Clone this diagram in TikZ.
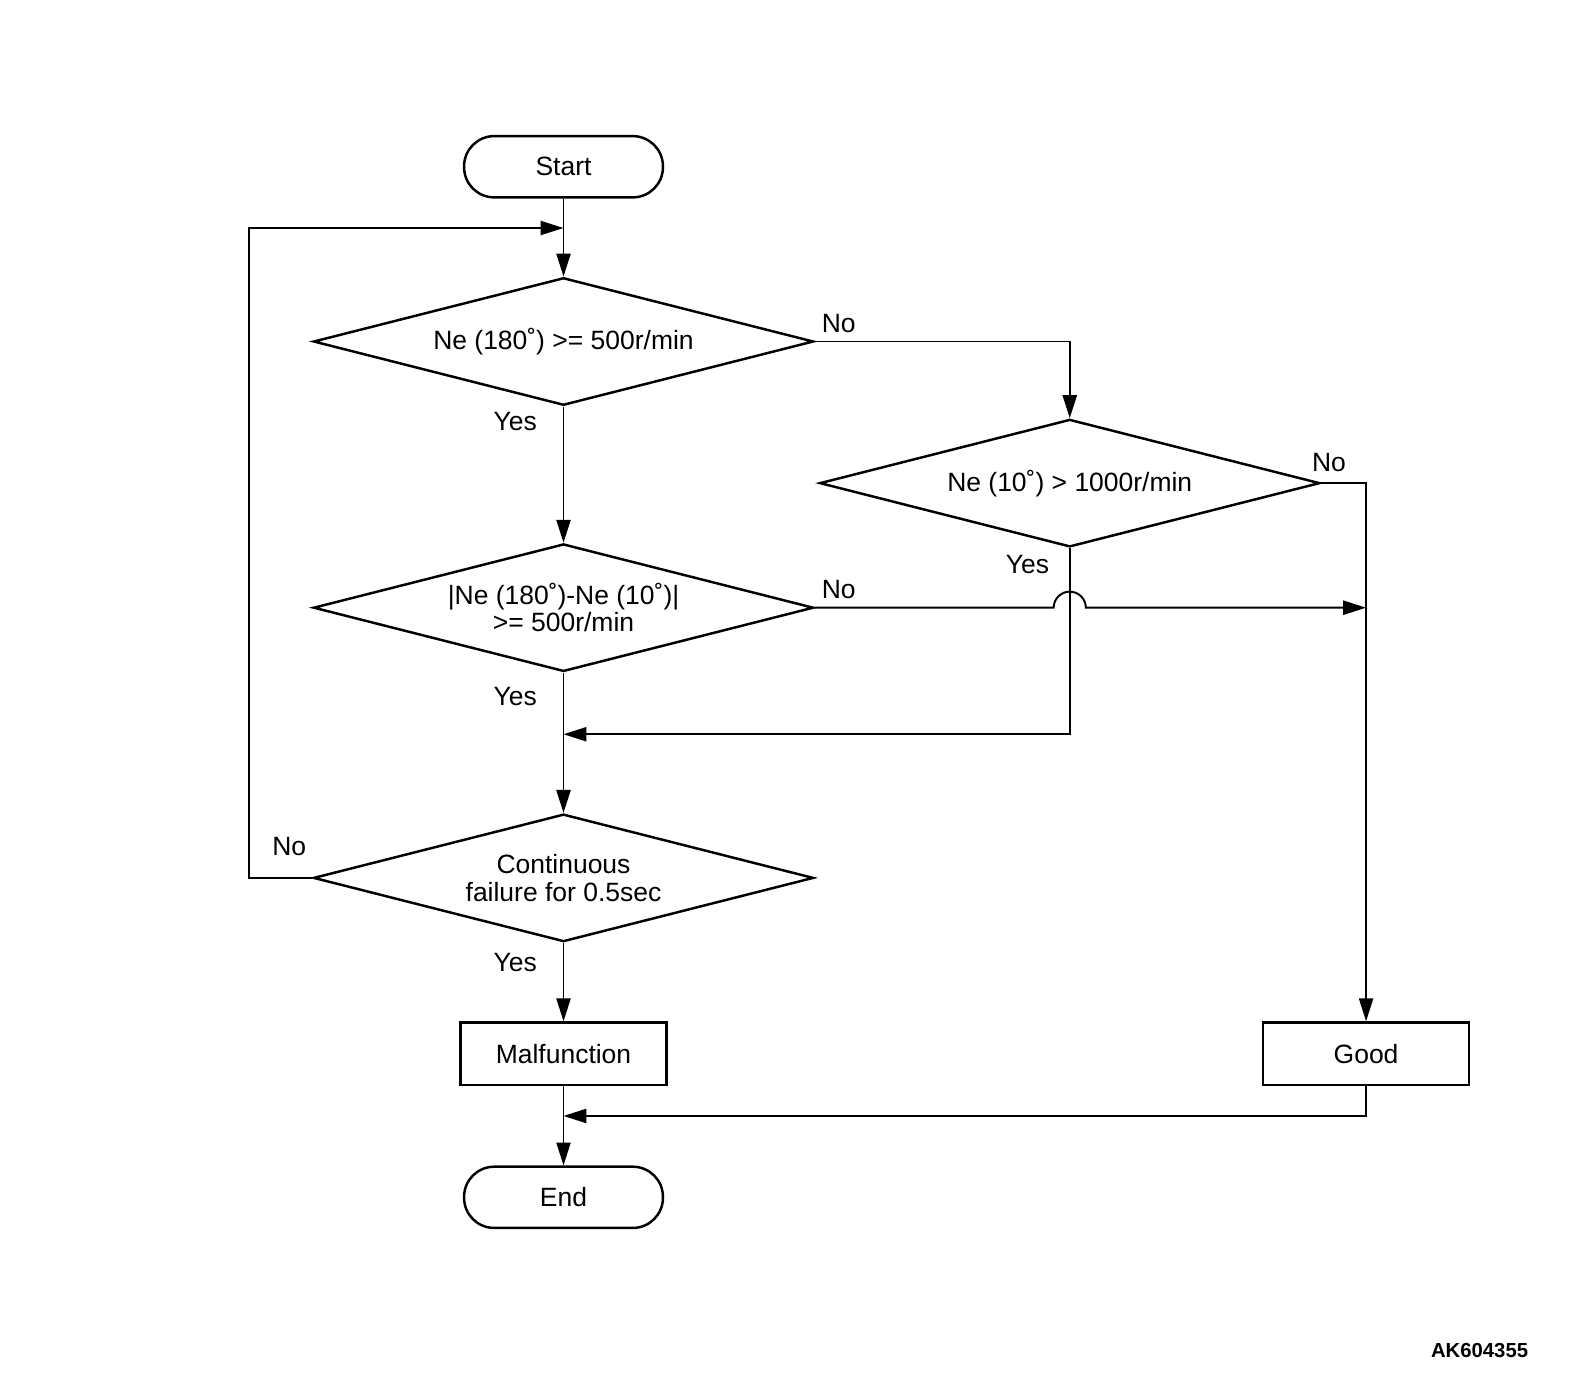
\documentclass[tikz,border=0pt]{standalone}
\usepackage{fontspec}
\setmainfont{Liberation Sans}
\usetikzlibrary{shapes.geometric,arrows.meta}
\tikzset{
	terminal/.style = {draw, line width=1.4pt, rectangle, rounded corners=0.6cm,
		minimum width=3.96cm, minimum height=1.22cm},
	process/.style = {draw, line width=1.4pt, rectangle,
		minimum width=4.1cm, minimum height=1.24cm},
	decision/.style = {draw, line width=1.4pt, diamond, aspect=4, inner sep=0pt,
		minimum width=9.96cm, minimum height=2.54cm, align=center},
	flow/.style = {-{Triangle[length=13pt,width=8pt]}},
	answer/.style = {inner sep=0pt},
}

\begin{document}
\begin{tikzpicture}[x=0.02cm, y=-0.02cm, line width=1.1pt, font=\fontsize{15}{15.5}\selectfont]
	
	\useasboundingbox (0,0) rectangle (1568,1371);
	
	% steps
	\node[terminal] (start) at (561,166) {Start};
	\node[decision] (speed) at (561,340) {Ne (180˚) >= 500r/min};
	\node[decision] (high) at (1065,481) {Ne (10˚) > 1000r/min};
	\node[decision] (diff) at (561,605) {|Ne (180˚)-Ne (10˚)|\\>= 500r/min};
	\node[decision] (cont) at (561,874) {Continuous\\failure for 0.5sec};
	\node[process] (malf) at (561,1049) {Malfunction};
	\node[process] (good) at (1360,1049) {Good};
	\node[terminal] (end) at (561,1192) {End};
	
	% answers
	\node[answer] (speedNo) at (835,322) {No};
	\node[answer] (speedYes) at (513,420) {Yes};
	\node[answer] (highNo) at (1323,460) {No};
	\node[answer] (highYes) at (1023,562) {Yes};
	\node[answer] (diffNo) at (835,587) {No};
	\node[answer] (diffYes) at (513,693) {Yes};
	\node[answer] (contNo) at (288,843) {No};
	\node[answer] (contYes) at (513,958) {Yes};
	
	% joints
	\coordinate (loop) at (561,227);
	\coordinate (back) at (248,227);
	\coordinate (join) at (561,731);
	\coordinate (hop) at (1065,605);
	\coordinate (merge) at (561,1111);
	
	% flow
	\draw[flow] (start) -- (speed);
	\draw[flow] (speed.east) -| (high.north);
	\draw[flow] (speed.south) -- (diff.north);
	\draw[flow] (high.east) -| (good.north);
	\draw[flow] (high.south) |- (join);
	\draw[flow] (diff.east) -- ([xshift=-0.32cm]hop)
		arc[start angle=180, end angle=0, radius=0.32cm] -- (diff.east -| good.north);
	\draw[flow] (diff.south) -- (cont.north);
	\draw[flow] (cont.west) -| (back) -- (loop);
	\draw[flow] (cont.south) -- (malf.north);
	\draw[flow] (malf.south) -- (end.north);
	\draw[flow] (good.south) |- (merge);
	
	\node[font=\fontsize{11.5}{14}\selectfont\bfseries] (code) at (1473,1345) {AK604355};
	
\end{tikzpicture}
\end{document}
